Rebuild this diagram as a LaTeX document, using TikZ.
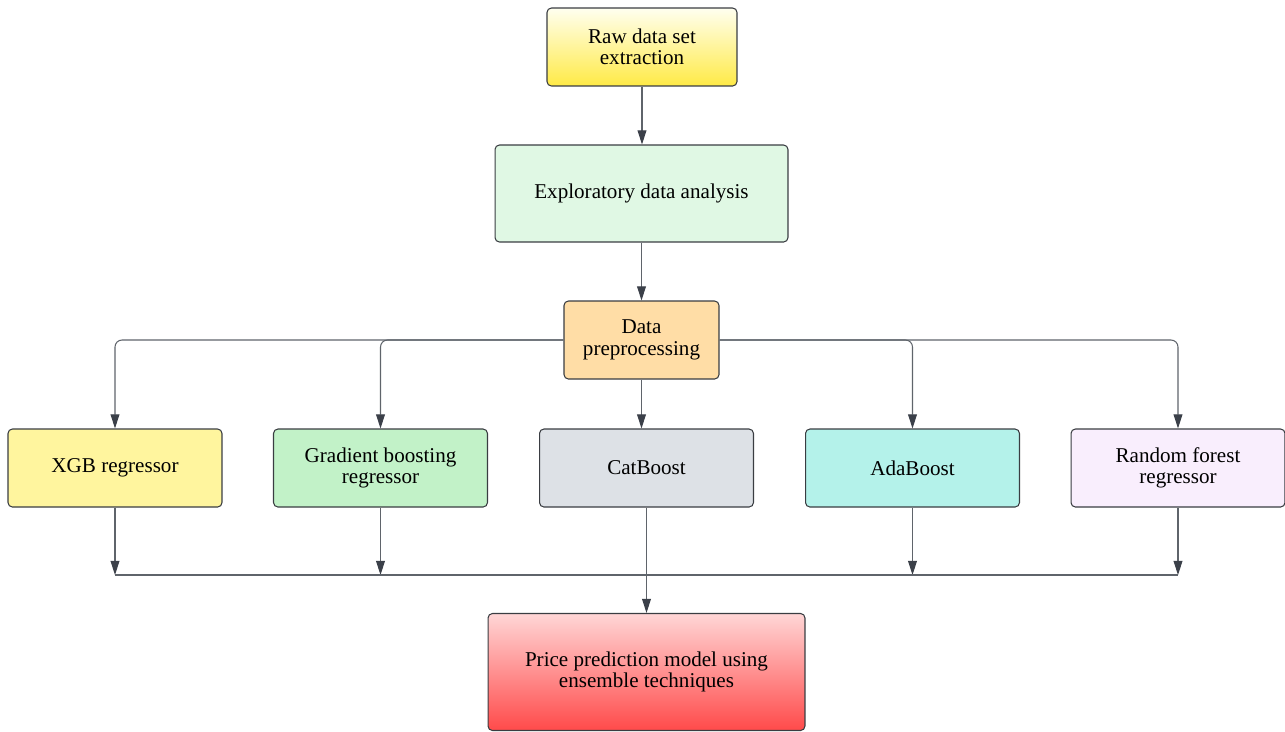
\documentclass[tikz,border=0pt]{standalone}
\usepackage{fontspec}
\setmainfont{Liberation Serif}
\usetikzlibrary{arrows.meta}
\usetikzlibrary{positioning}

\definecolor{boxline}{HTML}{3A3D42}
\definecolor{wiregray}{HTML}{5F646B}
\definecolor{tipgray}{HTML}{3B4049}
\definecolor{edafill}{HTML}{E0F8E4}
\definecolor{prepfill}{HTML}{FFDDA6}
\definecolor{xgbfill}{HTML}{FFF59E}
\definecolor{gbfill}{HTML}{C2F2C8}
\definecolor{catfill}{HTML}{DDE1E6}
\definecolor{adafill}{HTML}{B4F2EA}
\definecolor{rffill}{HTML}{F9EEFD}

\begin{document}
\begin{tikzpicture}[x=0.02cm,y=-0.02cm,every node/.style={draw=boxline, line width=0.6pt, rounded corners=2.5pt, align=center, inner sep=2pt, font=\fontsize{12}{12.2}\selectfont},
	stagebox/.style={minimum width=3.8cm, minimum height=1.56cm},
	algbox/.style={minimum width=4.28cm, minimum height=1.56cm},
	wire/.style={draw=wiregray, line width=0.6pt},
	link/.style={wire, -{Triangle[length=8pt, width=5pt, color=tipgray]}}]
	
	\useasboundingbox (0,0) rectangle (1285,731);
	
	% main chain
	\node[stagebox, top color=yellow!6, bottom color={rgb,255:red,255;green,234;blue,70}] (raw) at (642,47) {Raw data set\\extraction};
	\node[fill=edafill, minimum width=5.86cm, minimum height=1.94cm] (eda) at (641.5,193.5) {Exploratory data analysis};
	\node[fill=prepfill, minimum width=3.1cm, minimum height=1.56cm] (prep) at (641.5,340) {Data\\preprocessing};
	
	% regressors
	\node[algbox, fill=xgbfill] (xgb) at (115,468) {XGB regressor};
	\node[algbox, fill=gbfill] (gbr) at (380.5,468) {Gradient boosting\\regressor};
	\node[algbox, fill=catfill] (cat) at (646.5,468) {CatBoost};
	\node[algbox, fill=adafill] (ada) at (912.5,468) {AdaBoost};
	\node[algbox, fill=rffill] (rf) at (1178,468) {Random forest\\regressor};
	
	% result
	\node[minimum width=6.34cm, minimum height=2.34cm, top color={rgb,255:red,255;green,214;blue,214}, bottom color={rgb,255:red,255;green,74;blue,74}] (model) at (646.5,672) {Price prediction model using\\ensemble techniques};
	
	\coordinate (joinl) at (115,575);
	\coordinate (joinr) at (1178,575);
	
	\draw[link] (raw) -- (raw |- eda.north);
	\draw[link] (eda.south) -- (eda.south |- prep.north);
	
	\draw[link, rounded corners=4pt] (prep.west) -| (xgb.north);
	\draw[link, rounded corners=4pt] (prep.west) -| (gbr.north);
	\draw[link] (prep.south) -- (prep.south |- cat.north);
	\draw[link, rounded corners=4pt] (prep.east) -| (ada.north);
	\draw[link, rounded corners=4pt] (prep.east) -| (rf.north);
	
	\draw[link] (xgb.south) -- (xgb.south |- joinl);
	\draw[link] (gbr.south) -- (gbr.south |- joinl);
	\draw[link] (ada.south) -- (ada.south |- joinl);
	\draw[link] (rf.south) -- (rf.south |- joinl);
	\draw[wire] (joinl) -- (joinr);
	\draw[link] (cat.south) -- (model.north);
	
\end{tikzpicture}
\end{document}
